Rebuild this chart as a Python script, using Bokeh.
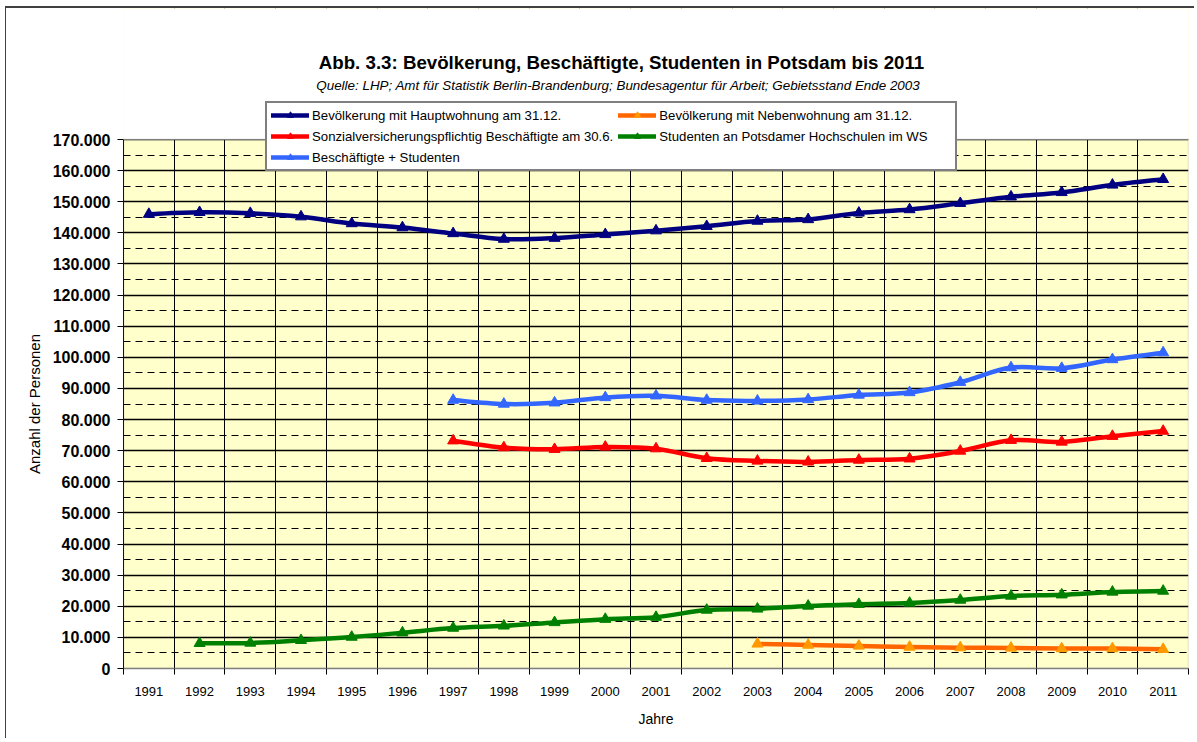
from bokeh.plotting import figure
from bokeh.models import FixedTicker, Legend, LegendItem, Label, BoxAnnotation, Title
from bokeh.embed import file_html
from bokeh.resources import INLINE

# ---------------- data ----------------
years = list(range(1991, 2012))
hauptwohnung = [146000, 146600, 146300, 145200, 143000, 141700, 139800, 138000,
                138300, 139500, 140700, 142100, 143800, 144300, 146400, 147500,
                149500, 151600, 153000, 155400, 157200]
neben_years = list(range(2003, 2012))
nebenwohnung = [7900, 7550, 7250, 6900, 6700, 6600, 6400, 6400, 6200]
besch_years = list(range(1997, 2012))
beschaeftigte = [73200, 71000, 70450, 71200, 70650, 67550, 66700, 66400, 67000,
                 67400, 69900, 73350, 72800, 74650, 76300]
stud_years = list(range(1992, 2012))
studenten = [8100, 8200, 9050, 10100, 11500, 13000, 13700, 14800, 15850, 16500,
             18800, 19150, 20100, 20650, 21050, 22000, 23300, 23700, 24600, 24900]
besch_stud = [86250, 85000, 85400, 87100, 87650, 86250, 86000, 86450, 87900,
              88700, 92000, 96700, 96500, 99300, 101500]

y_ticks = list(range(0, 170001, 10000))
y_minor = list(range(5000, 170000, 10000))

title = "Abb. 3.3: Bevölkerung, Beschäftigte, Studenten in Potsdam bis 2011"
subtitle = ("Quelle: LHP; Amt für Statistik Berlin-Brandenburg; Bundesagentur für Arbeit; "
            "Gebietsstand Ende 2003")
y_title = "Anzahl der Personen"
x_title = "Jahre"

FONT = "Liberation Sans"
Y_MAX = 170000

# layout (page pixels)
CANVAS_X, CANVAS_Y = 6, 8
FRAME_L, FRAME_R, FRAME_B, AXIS_TOP = 123, 1188, 668, 139
W, H = 1189, 732
frame_h = FRAME_B - CANVAS_Y
y_end = Y_MAX * frame_h / (FRAME_B - AXIS_TOP)

p = figure(width=W, height=H, output_backend="svg", toolbar_location=None, title=None,
           x_range=(years[0] - 0.5, years[-1] + 0.5), y_range=(0, y_end),
           min_border_left=FRAME_L - CANVAS_X,
           min_border_right=CANVAS_X + W - FRAME_R,
           min_border_top=0,
           min_border_bottom=CANVAS_Y + H - FRAME_B)
p.styles = {"margin-left": "5px", "margin-top": "6px",
            "border-left": "1px solid #404040", "border-top": "2px solid #404040"}
p.background_fill_color = "#FFFFCC"
p.border_fill_color = "white"
p.outline_line_color = None

boundaries = [y - 0.5 for y in years] + [years[-1] + 0.5]

# x axis
p.xaxis.ticker = FixedTicker(ticks=years, minor_ticks=boundaries)
p.xaxis.major_label_overrides = {y: str(y) for y in years}
p.xaxis.major_tick_line_color = None
p.xaxis.major_tick_out = 6
p.xaxis.minor_tick_in = 0
p.xaxis.minor_tick_out = 6
p.xaxis.minor_tick_line_color = "black"
p.xaxis.axis_line_color = "#808080"
p.xaxis.axis_line_width = 1.5
p.xaxis.major_label_text_font = FONT
p.xaxis.major_label_text_font_size = "13px"
p.xaxis.major_label_text_color = "black"
p.xaxis.major_label_standoff = 12
p.xaxis.axis_label = x_title
p.xaxis.axis_label_text_font = FONT
p.xaxis.axis_label_text_font_style = "normal"
p.xaxis.axis_label_text_font_size = "14px"
p.xaxis.axis_label_text_color = "black"
p.xaxis.axis_label_standoff = 12

# y axis
p.yaxis.ticker = FixedTicker(ticks=y_ticks, minor_ticks=y_minor)
p.yaxis.bounds = (0, Y_MAX)
p.yaxis.major_label_overrides = {v: f"{v:,}".replace(",", ".") for v in y_ticks}
p.yaxis.major_tick_in = 0
p.yaxis.major_tick_out = 6
p.yaxis.minor_tick_line_color = None
p.yaxis.axis_line_color = "black"
p.yaxis.major_label_text_font = FONT
p.yaxis.major_label_text_font_style = "bold"
p.yaxis.major_label_text_font_size = "16px"
p.yaxis.major_label_text_color = "black"
p.yaxis.major_label_standoff = 7

# y title, centred on the 0..170.000 part of the axis
y_title_size = 15
y_title_len = 9.34 * y_title_size          # approx. text length in px
y_title_center = (FRAME_B + AXIS_TOP) / 2
p.add_layout(Title(text=y_title, align="left", vertical_align="middle",
                   offset=FRAME_B - y_title_center - y_title_len / 2,
                   text_font=FONT, text_font_style="normal",
                   text_font_size=f"{y_title_size}px", text_color="black",
                   standoff=12), "left")

# grids
p.xgrid.ticker = FixedTicker(ticks=boundaries)
p.xgrid.grid_line_color = "black"
p.xgrid.grid_line_width = 1
p.ygrid.grid_line_color = "black"
p.ygrid.grid_line_width = 1.4
p.ygrid.minor_grid_line_color = "black"
p.ygrid.minor_grid_line_width = 1
p.ygrid.minor_grid_line_dash = "7 5"

# white area above the plot area (title / legend region)
p.add_layout(BoxAnnotation(bottom=Y_MAX, fill_color="white", fill_alpha=1,
                           line_alpha=0))
# plot-area border
p.add_layout(BoxAnnotation(left=boundaries[0], right=boundaries[-1], bottom=0, top=Y_MAX,
                           fill_alpha=0, line_color="#808080", line_width=1.5))

series = [
    ("Bevölkerung mit Hauptwohnung am 31.12.", years, hauptwohnung, "#000080", "#000080"),
    ("Bevölkerung mit Nebenwohnung am 31.12.", neben_years, nebenwohnung, "#FF6600", "#FF9900"),
    ("Sonzialversicherungspflichtig Beschäftigte am 30.6.", besch_years, beschaeftigte, "#FF0000", "#FF0000"),
    ("Studenten an Potsdamer Hochschulen im WS", stud_years, studenten, "#008000", "#008000"),
    ("Beschäftigte + Studenten", besch_years, besch_stud, "#3366FF", "#3366FF"),
]


def smooth_segments(xs, ys):
    """Cubic Bezier segments through the data points (Excel-style smoothed line)."""
    n = len(xs)
    out = {k: [] for k in ("x0", "y0", "x1", "y1", "cx0", "cy0", "cx1", "cy1")}
    for i in range(n - 1):
        a = max(i - 1, 0)
        d = min(i + 2, n - 1)
        out["x0"].append(xs[i]); out["y0"].append(ys[i])
        out["x1"].append(xs[i + 1]); out["y1"].append(ys[i + 1])
        out["cx0"].append(xs[i] + (xs[i + 1] - xs[a]) / 6)
        out["cy0"].append(ys[i] + (ys[i + 1] - ys[a]) / 6)
        out["cx1"].append(xs[i + 1] - (xs[d] - xs[i]) / 6)
        out["cy1"].append(ys[i + 1] - (ys[d] - ys[i]) / 6)
    return out


items = {}
for name, xs, ys, lc, mc in series:
    seg = smooth_segments(xs, ys)
    r1 = p.bezier(x0=seg["x0"], y0=seg["y0"], x1=seg["x1"], y1=seg["y1"],
                  cx0=seg["cx0"], cy0=seg["cy0"], cx1=seg["cx1"], cy1=seg["cy1"],
                  line_color=lc, line_width=4.5, line_cap="round")
    r2 = p.scatter(xs, ys, marker="triangle", size=11, fill_color=mc, line_color=mc)
    items[name] = LegendItem(label=name, renderers=[r1, r2], index=0)

order = [series[0][0], series[2][0], series[4][0], series[1][0], series[3][0]]
legend = Legend(items=[items[n] for n in order], location=(265 - FRAME_L, FRAME_B - 171),
                nrows=3, orientation="vertical")
legend.label_text_font = FONT
legend.label_text_font_size = "13.2px"
legend.label_text_color = "black"
legend.label_standoff = 3
legend.label_width = 292
legend.glyph_width = 38
legend.glyph_height = 16
legend.label_height = 16
legend.spacing = 5
legend.padding = 4
legend.margin = 0
legend.border_line_color = "black"
legend.border_line_width = 2
legend.background_fill_color = "white"
legend.background_fill_alpha = 1
p.add_layout(legend)

p.add_layout(Label(x=621 - FRAME_L, y=FRAME_B - 62, x_units="screen", y_units="screen",
                   text=title, text_align="center", text_baseline="middle",
                   text_font=FONT, text_font_style="bold",
                   text_font_size="18.7px", text_color="black"))
p.add_layout(Label(x=618 - FRAME_L, y=FRAME_B - 85, x_units="screen", y_units="screen",
                   text=subtitle, text_align="center", text_baseline="middle",
                   text_font=FONT, text_font_style="italic",
                   text_font_size="13.4px", text_color="black"))

open("out.html", "w").write(file_html(p, INLINE))
